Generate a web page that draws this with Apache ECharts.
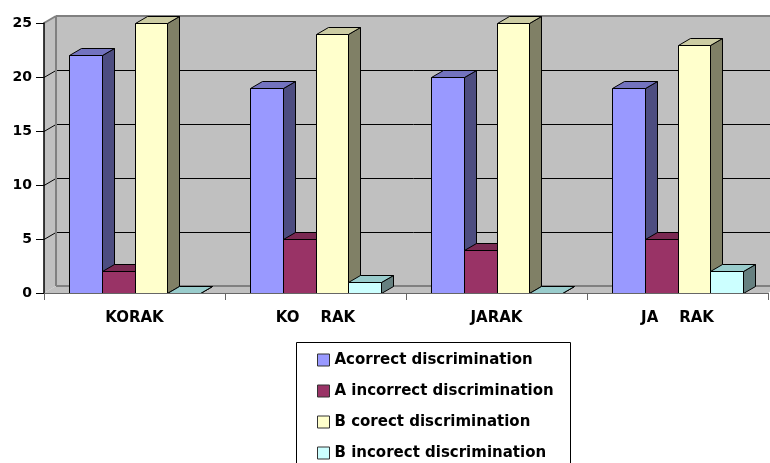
<!DOCTYPE html>
<html>
<head>
<meta charset="utf-8">
<script src="https://cdn.jsdelivr.net/npm/echarts@6/dist/echarts.min.js"></script>
<style>html,body{margin:0;padding:0;background:#fff}#c{width:770px;height:463px}</style>
</head>
<body>
<div id="c"></div>
<script>
const categories = ['KORAK', 'KO    RAK', 'JARAK', 'JA    RAK'];
const seriesNames = ['Acorrect discrimination', 'A incorrect discrimination', 'B corect discrimination', 'B incorect discrimination'];
const aCorrect = [22, 19, 20, 19];
const aIncorrect = [2, 5, 4, 5];
const bCorrect = [25, 24, 25, 23];
const bIncorrect = [0, 1, 0, 2];
const yTicks = [0, 5, 10, 15, 20, 25];

const seriesValues = [aCorrect, aIncorrect, bCorrect, bIncorrect];
const faceColors = [
  {front: '#9999FF', top: '#7373BF', side: '#4D4D80'},
  {front: '#993366', top: '#7A2952', side: '#4D1A33'},
  {front: '#FFFFCC', top: '#CCCCA3', side: '#808066'},
  {front: '#CCFFFF', top: '#99CCCC', side: '#668080'}
];
const DX = 12, DY = -7;
const BAR_FRAC = 0.182;
const FONT = "'DejaVu Sans', Verdana, sans-serif";

const chart = echarts.init(document.getElementById('c'), null, {renderer: 'canvas'});

function wallRender(params, api) {
  const cs = params.coordSys;
  const L = cs.x, T = cs.y, R = cs.x + cs.width, B = cs.y + cs.height;
  const children = [];
  const fill = '#C0C0C0', edge = '#808080';
  children.push({type: 'polygon', shape: {points: [[L + DX, T + DY], [R + DX, T + DY], [R + DX, B + DY], [L + DX, B + DY]]}, style: {fill: fill}});
  children.push({type: 'polygon', shape: {points: [[L, T], [L + DX, T + DY], [L + DX, B + DY], [L, B]]}, style: {fill: fill}});
  children.push({type: 'polygon', shape: {points: [[L, B], [L + DX, B + DY], [R + DX, B + DY], [R, B]]}, style: {fill: fill}});
  yTicks.forEach(function (t) {
    if (t === yTicks[0] || t === yTicks[yTicks.length - 1]) return;
    const y = Math.round(api.coord([0, t])[1]) + 0.5;
    children.push({type: 'line', shape: {x1: L + DX, y1: y + DY, x2: R + DX, y2: y + DY}, style: {stroke: '#000', lineWidth: 1}});
    children.push({type: 'line', shape: {x1: L, y1: y, x2: L + DX, y2: y + DY}, style: {stroke: '#000', lineWidth: 1}});
  });
  children.push({type: 'line', shape: {x1: L + DX, y1: T + DY, x2: R + DX, y2: T + DY}, style: {stroke: edge, lineWidth: 2}});
  children.push({type: 'line', shape: {x1: L + DX, y1: T + DY, x2: L + DX, y2: B + DY}, style: {stroke: edge, lineWidth: 2}});
  children.push({type: 'line', shape: {x1: L + DX, y1: B + DY, x2: R + DX, y2: B + DY}, style: {stroke: edge, lineWidth: 2}});
  children.push({type: 'line', shape: {x1: L, y1: T, x2: L + DX, y2: T + DY}, style: {stroke: edge, lineWidth: 2}});
  return {type: 'group', children: children};
}

function makeBarRender(si) {
  return function (params, api) {
    const ci = api.value(0), v = api.value(1);
    const base = api.coord([ci, 0]);
    const top = api.coord([ci, v]);
    const band = api.size([1, 0])[0];
    const bw = band * BAR_FRAC;
    const x0 = Math.round(base[0] - 2 * bw + si * bw) + 0.5;
    const x1 = Math.round(base[0] - 2 * bw + (si + 1) * bw) + 0.5;
    const yb = Math.round(base[1]) + 0.5, yt = Math.round(top[1]) + 0.5;
    const c = faceColors[si];
    const st = {stroke: '#000', lineWidth: 1, lineJoin: 'round'};
    return {
      type: 'group',
      children: [
        {type: 'polygon', shape: {points: [[x1, yt], [x1 + DX, yt + DY], [x1 + DX, yb + DY], [x1, yb]]}, style: Object.assign({fill: c.side}, st)},
        {type: 'polygon', shape: {points: [[x0, yt], [x0 + DX, yt + DY], [x1 + DX, yt + DY], [x1, yt]]}, style: Object.assign({fill: c.top}, st)},
        {type: 'rect', shape: {x: x0, y: yt, width: x1 - x0, height: yb - yt}, style: Object.assign({fill: c.front}, st)}
      ]
    };
  };
}

const series = [{
  type: 'custom', name: '__wall', silent: true, z: 1,
  renderItem: wallRender, data: [[0, 0]], encode: {x: 0, y: 1}
}];
seriesNames.forEach(function (name, si) {
  series.push({
    type: 'custom', name: name, z: 2 + si,
    itemStyle: {color: faceColors[si].front},
    renderItem: makeBarRender(si),
    data: seriesValues[si].map(function (v, i) { return [i, v]; }),
    encode: {x: 0, y: 1}
  });
});

chart.setOption({
  animation: false,
  backgroundColor: '#fff',
  grid: {left: 44, right: 2, top: 23, bottom: 170},
  xAxis: {
    type: 'category', data: categories, boundaryGap: true, z: 10,
    axisLine: {lineStyle: {color: '#666', width: 1}},
    axisTick: {show: true, length: 7, lineStyle: {color: '#666'}},
    axisLabel: {margin: 18, fontFamily: FONT, fontWeight: 'bold', fontSize: 15, color: '#000'},
    splitLine: {show: false}
  },
  yAxis: {
    type: 'value', min: 0, max: 25, interval: 5, z: 10,
    axisLine: {show: true, lineStyle: {color: '#000', width: 1.5}},
    axisTick: {show: true, length: 8, lineStyle: {color: '#000'}},
    axisLabel: {margin: 12, fontFamily: FONT, fontWeight: 'bold', fontSize: 14, color: '#000'},
    splitLine: {show: false}
  },
  legend: {
    orient: 'vertical', left: 317, top: 351, padding: 0,
    itemWidth: 12, itemHeight: 12, itemGap: 13, icon: 'rect',
    data: seriesNames.map(function (n, i) {
      return {name: n, itemStyle: {color: faceColors[i].front, borderColor: '#333', borderWidth: 1}};
    }),
    textStyle: {fontFamily: FONT, fontWeight: 'bold', fontSize: 15, color: '#000', lineHeight: 18}
  },
  graphic: [{
    type: 'rect', left: 296, top: 342, z: -1,
    shape: {width: 274, height: 140},
    style: {fill: '#fff', stroke: '#000', lineWidth: 1}
  }],
  series: series
});
</script>
</body>
</html>
